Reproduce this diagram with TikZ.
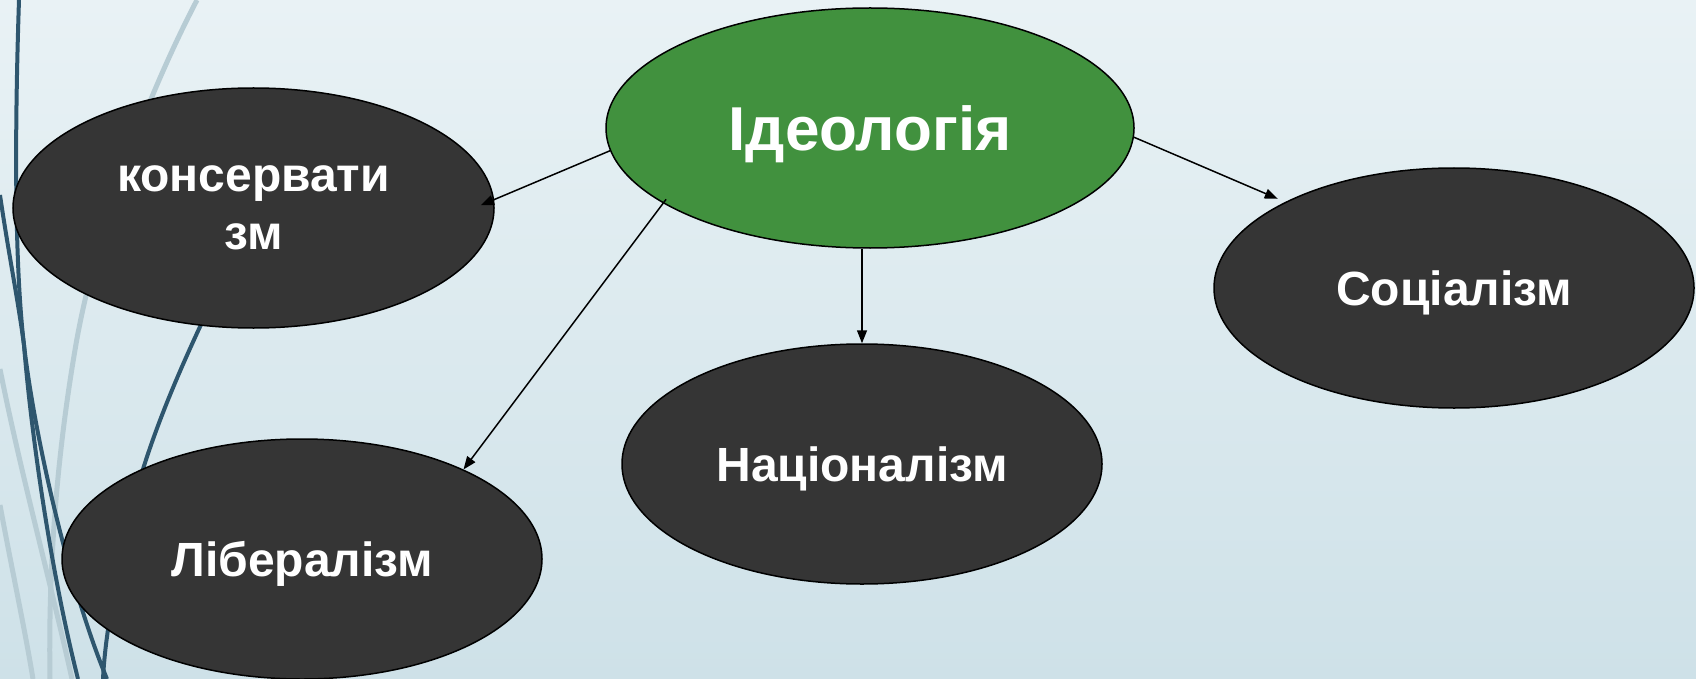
\documentclass[tikz,border=0pt]{standalone}
\usepackage{fontspec}
\setmainfont{Liberation Sans}
\usetikzlibrary{arrows.meta, shapes.geometric}
\definecolor{bgtop}{RGB}{233,242,245}
\definecolor{bgbottom}{RGB}{206,225,232}
\definecolor{wispdark}{RGB}{46,86,110}
\definecolor{wisplight}{RGB}{183,204,212}
\definecolor{darkgrey}{RGB}{53,53,53}
\definecolor{ideagreen}{RGB}{65,145,62}

\begin{document}
\begin{tikzpicture}[x=1pt, y=-1pt,
  ell/.style={ellipse, draw=black, line width=1.5pt, fill=darkgrey, text=white,
              inner sep=0pt, minimum width=480pt, minimum height=240pt, align=center,
              font=\fontsize{48}{58}\selectfont\bfseries},
  capline/.style={text height=34pt, text depth=0pt},
  arrow/.style={-{Triangle[length=13pt,width=10pt]}, line width=1.5pt},
  wisp/.style={draw=wispdark, line width=4pt},
  wispl/.style={draw=wisplight, line width=5pt}
]
\useasboundingbox (0,0) rectangle (1696,679);
\shade[top color=bgtop, bottom color=bgbottom] (0,0) rectangle (1696,679);
% background wisps
\draw[wispl] (197,0) .. controls (150,90) and (95,230) .. (75,350)
  .. controls (58,450) and (48,560) .. (50,679);
\draw[wispl] (0,369) .. controls (20,470) and (50,580) .. (72,679);
\draw[wispl] (0,505) .. controls (12,570) and (25,630) .. (33,679);
\draw[wisp] (19,0) .. controls (15,120) and (14,260) .. (24,345)
  .. controls (35,440) and (70,590) .. (107,679);
\draw[wisp] (0,195) .. controls (8,250) and (18,300) .. (24,345)
  .. controls (30,420) and (48,560) .. (78,679);
\draw[wisp] (205,316) .. controls (175,380) and (140,460) .. (125,540)
  .. controls (112,600) and (105,640) .. (103,679);
% ellipses
\node[ell, fill=ideagreen, minimum width=528pt, font=\fontsize{62}{72}\selectfont\bfseries,
      text height=44.5pt, text depth=0pt] (ideo) at (870,128) {Ідеологія};
\node[ell, minimum width=481pt] (cons) at (253.5,208) {консервати\\зм};
\node[ell, capline] (soc) at (1454,288) {Соціалізм};
\node[ell, capline] (nat) at (862,464) {Націоналізм};
\node[ell, capline] (lib) at (302,559) {Лібералізм};
% connectors
\draw[arrow, shorten >=-14.5pt] (ideo.185) -- (cons.2);
\draw[arrow, shorten <=-5pt] (ideo.200) -- (lib.29);
\draw[arrow] (ideo.south -| nat.north) -- (nat.north);
\draw[arrow, shorten >=8pt] (ideo.-2) -- (soc.153);
\end{tikzpicture}
\end{document}
